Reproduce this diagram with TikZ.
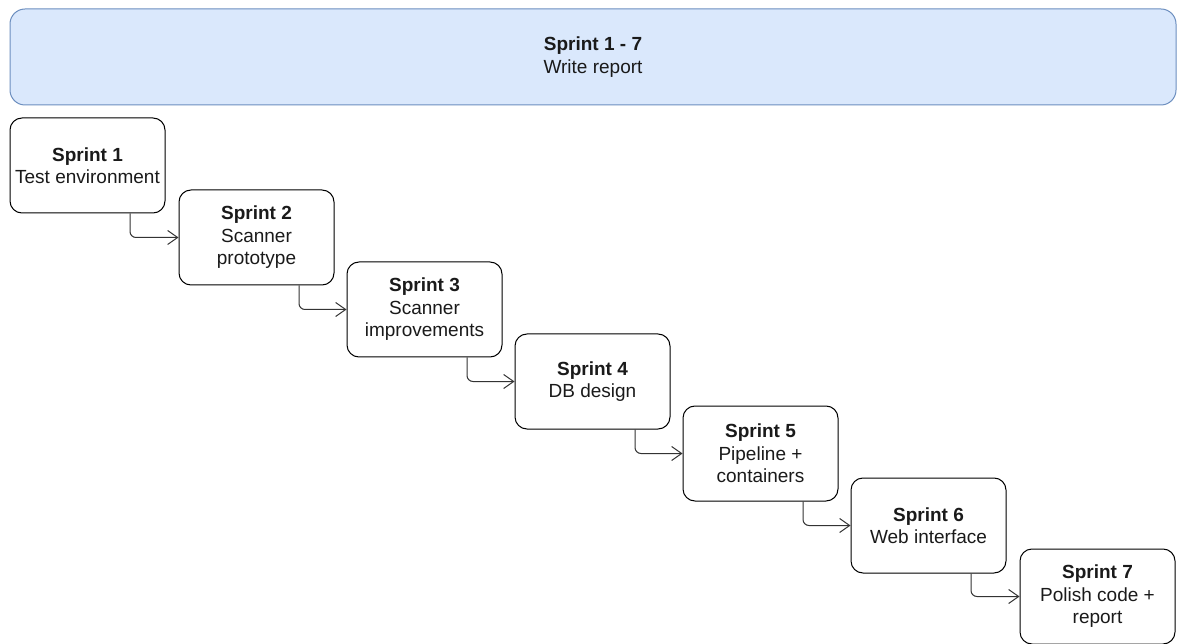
\documentclass[tikz,border=0pt]{standalone}
\usepackage{fontspec}
\setmainfont{Liberation Sans}
\usetikzlibrary{arrows.meta}
\definecolor{bannerfill}{HTML}{DAE8FC}
\definecolor{bannerdraw}{HTML}{6C8EBF}
\definecolor{textgrey}{HTML}{1A1A1A}
\tikzset{
  sprintbox/.style={draw=black, line width=1pt, fill=white, rounded corners=12pt,
    minimum width=155pt, minimum height=95pt, inner sep=0pt, text=textgrey,
    align=center, font=\fontsize{19}{22.5}\selectfont},
  banner/.style={draw=bannerdraw, line width=1pt, fill=bannerfill, rounded corners=15pt,
    minimum width=1166pt, minimum height=96pt, inner sep=0pt, text=textgrey,
    align=center, font=\fontsize{19}{22.5}\selectfont},
  flow/.style={draw=black!80, line width=1pt, rounded corners=6pt,
    -{Straight Barb[length=10pt,width=14pt,line width=1pt]}}
}
\begin{document}
\begin{tikzpicture}[x=1pt,y=-1pt]
\useasboundingbox (0,0) rectangle (1181,644);
\node[banner] (all) at (593,57) {\textbf{Sprint 1 - 7}\\Write report};
\node[sprintbox] (s1) at (87.5,165.5)  {\textbf{Sprint 1}\\Test environment};
\node[sprintbox] (s2) at (256.5,237.5) {\textbf{Sprint 2}\\Scanner\\prototype};
\node[sprintbox] (s3) at (424.5,309.5) {\textbf{Sprint 3}\\Scanner\\improvements};
\node[sprintbox] (s4) at (592.5,381.5) {\textbf{Sprint 4}\\DB design};
\node[sprintbox] (s5) at (760.5,453.5) {\textbf{Sprint 5}\\Pipeline +\\containers};
\node[sprintbox] (s6) at (928.5,525.5) {\textbf{Sprint 6}\\Web interface};
\node[sprintbox] (s7) at (1097.5,596.5) {\textbf{Sprint 7}\\Polish code +\\report};
\foreach \a/\b in {s1/s2,s2/s3,s3/s4,s4/s5,s5/s6,s6/s7}
  \draw[flow] ([xshift=42.5pt]\a.south) |- (\b.west);
\end{tikzpicture}
\end{document}
